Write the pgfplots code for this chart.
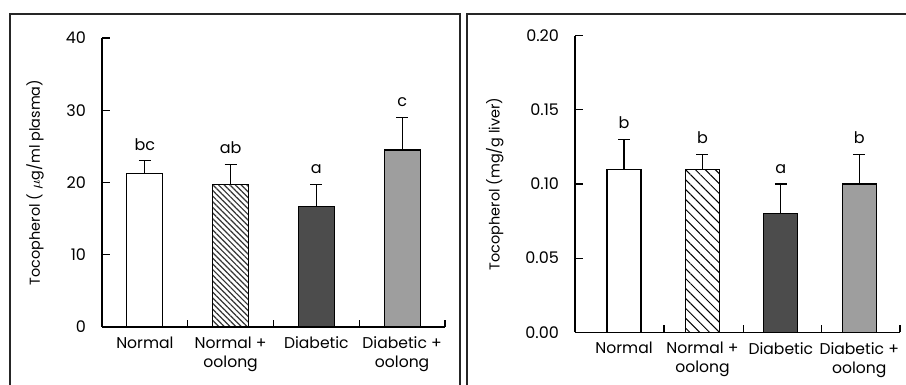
\documentclass[border=0pt]{standalone}
\usepackage{pgfplots}
\pgfplotsset{compat=1.18}
\usepackage{fontspec}
\setmainfont{Poppins}
\usetikzlibrary{patterns.meta}
\definecolor{darkbar}{gray}{0.30}
\definecolor{lightbar}{gray}{0.62}
\pgfplotsset{
  panel/.style={
    scale only axis,
    axis lines=left,
    axis line style={-, line width=0.6pt},
    tick align=inside,
    tick style={line width=0.6pt, black},
    major tick length=4pt,
    minor tick length=3.5pt,
    xtick={0,1,2,3},
    major x tick style={draw=none},
    xticklabels={Normal,{Normal +\\oolong},Diabetic,{Diabetic +\\oolong}},
    xticklabel style={align=center, font=\fontsize{7.8}{9.5}\selectfont, yshift=-1.5pt},
    yticklabel style={font=\fontsize{8}{9}\selectfont, xshift=-4.5pt},
    ylabel style={anchor=center, font=\fontsize{7.2}{8.5}\selectfont},
    /pgf/number format/assume math mode=true,
    clip=false,
  },
  bar/.style={ybar, bar shift=0pt, draw=black, line width=0.6pt,
    error bars/y dir=plus, error bars/y explicit,
    error bars/error bar style={line width=0.6pt, black},
    error bars/error mark options={rotate=90, mark size=3pt, line width=0.6pt, black}},
  letters/.style={draw=none, mark=none, nodes near coords, point meta=explicit symbolic,
    nodes near coords style={anchor=south, yshift=1.8pt, font=\fontsize{8}{9}\selectfont}},
}
\begin{document}
\begin{tikzpicture}
\path[use as bounding box] (0,0) rectangle (453pt,192.5pt);
% left panel
\begin{axis}[panel,
  at={(51pt,29pt)}, anchor=south west,
  width=171.5pt, height=144.5pt,
  xmin=-0.5, xmax=3.5, ymin=0, ymax=40,
  ytick={0,10,20,30,40},
  minor xtick={0.5,1.5,2.5,3.5},
  ylabel={Tocopherol ( $\mu$g/ml plasma)},
  ylabel style={at={(axis description cs:-0.195,0.5)}},
]
\addplot[bar, bar width=18pt, fill=white] coordinates {(0,21.3) +- (0,1.7)};
\addplot[bar, bar width=18pt, fill=white] coordinates {(1,19.7) +- (0,2.8)};
\addplot[bar, bar width=18pt, pattern={Lines[angle=-45, distance=2pt, line width=0.6pt]}, pattern color=black!80] coordinates {(1,19.7)};
\addplot[bar, bar width=18pt, fill=darkbar] coordinates {(2,16.7) +- (0,3.0)};
\addplot[bar, bar width=18pt, fill=lightbar] coordinates {(3,24.5) +- (0,4.5)};
\addplot[letters] coordinates {(0,23.0)[bc] (1,22.5)[ab] (2,19.7)[a] (3,29.0)[c]};
\end{axis}
% right panel
\begin{axis}[panel,
  at={(287.5pt,26.35pt)}, anchor=south west,
  width=162.5pt, height=148.3pt,
  xmin=-0.626, xmax=3.52, ymin=0, ymax=0.2,
  ytick={0,0.05,0.10,0.15,0.20},
  yticklabel style={/pgf/number format/fixed, /pgf/number format/precision=2, /pgf/number format/fixed zerofill},
  scaled y ticks=false,
  minor xtick={0.51,1.52,2.52,3.52},
  ylabel={Tocopherol (mg/g liver)},
  ylabel style={at={(axis description cs:-0.247,0.5)}},
]
\addplot[bar, bar width=17pt, fill=white] coordinates {(0,0.11) +- (0,0.02)};
\addplot[bar, bar width=17pt, fill=white] coordinates {(1,0.11) +- (0,0.01)};
\addplot[bar, bar width=17pt, pattern={Lines[angle=-45, distance=3.5pt, line width=0.5pt]}, pattern color=black] coordinates {(1,0.11)};
\addplot[bar, bar width=17pt, fill=darkbar] coordinates {(2,0.08) +- (0,0.02)};
\addplot[bar, bar width=17pt, fill=lightbar] coordinates {(3,0.10) +- (0,0.02)};
\addplot[letters] coordinates {(0,0.13)[b] (1,0.12)[b] (2,0.10)[a] (3,0.12)[b]};
\end{axis}
\draw[line width=0.6pt, black!85] (5pt,0) -- (5pt,185.5pt) -- (230pt,185.5pt) -- (230pt,0);
\draw[line width=0.6pt, black!85] (233.5pt,0) -- (233.5pt,185.5pt) -- (453pt,185.5pt);
\end{tikzpicture}
\end{document}
